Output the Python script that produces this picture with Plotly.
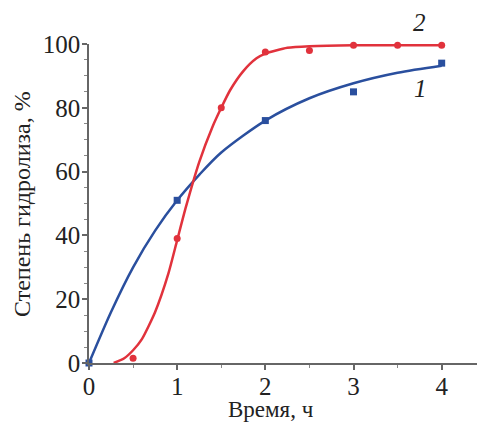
import plotly.graph_objects as go

# measured points
t1 = [0, 1, 2, 3, 4]
y1 = [0, 51, 76, 85, 94]
t2 = [0.5, 1, 1.5, 2, 2.5, 3, 3.5, 4]
y2 = [1.5, 39, 80, 97.5, 98, 99.6, 99.6, 99.6]

# fitted curves
c1_x = [0, 0.25, 0.5, 0.75, 1, 1.25, 1.5, 2, 2.5, 3, 3.5, 4]
c1_y = [0, 16, 30, 41.5, 51, 59, 66, 76, 83, 87.7, 91, 93.2]
c2_x = [0.28, 0.4, 0.5, 0.6, 0.75, 0.9, 1, 1.1, 1.25, 1.4, 1.5, 1.6, 1.75, 1.9, 2, 2.25, 2.5, 3, 3.5, 4]
c2_y = [0, 1.5, 4, 7.5, 16, 28, 38.5, 49, 63, 74, 80, 85.5, 91.5, 95.5, 97, 98.8, 99.3, 99.6, 99.6, 99.6]

x_ticks = [0, 1, 2, 3, 4]
y_ticks = [0, 20, 40, 60, 80, 100]

BLUE = "#2a4f9e"
RED = "#e1323c"
FONT = "Liberation Serif"
TXT = "#222"

fig = go.Figure()
fig.add_trace(go.Scatter(x=c1_x, y=c1_y, mode="lines", line=dict(color=BLUE, width=2.5, shape="spline", smoothing=0.8),
                         hoverinfo="skip", cliponaxis=False))
fig.add_trace(go.Scatter(x=c2_x, y=c2_y, mode="lines", line=dict(color=RED, width=2.5, shape="spline", smoothing=0.6),
                         hoverinfo="skip", cliponaxis=False))
fig.add_trace(go.Scatter(x=t1, y=y1, mode="markers", marker=dict(symbol="square", size=7, color=BLUE), cliponaxis=False))
fig.add_trace(go.Scatter(x=t2, y=y2, mode="markers", marker=dict(symbol="circle", size=7, color=RED), cliponaxis=False))

# page has an 8px body margin; plot area on screen: x 89..484, y 44..363
OFF = 8
W0, W1, H0, H1 = 89, 484, 44, 363
FIG_W, FIG_H = 485 - OFF, 422 - OFF
def px(xs):
    return (xs - W0) / (W1 - W0)
def py(ys):
    return (H1 - ys) / (H1 - H0)

def label(xs, ys, text, size, angle=0):
    fig.add_annotation(xref="paper", yref="paper", x=px(xs), y=py(ys), text=text, showarrow=False,
                       xanchor="center", yanchor="middle", textangle=angle,
                       font=dict(family=FONT, size=size, color=TXT))

label(419, 23, "<i>2</i>", 25)
label(420, 89, "<i>1</i>", 25)
label(271, 409, "Время, ч", 23)
label(22, 204, "Степень гидролиза, %", 24, -90)

fig.update_layout(
    width=FIG_W, height=FIG_H,
    margin=dict(l=W0 - OFF, r=FIG_W - (W1 - OFF), t=H0 - OFF, b=FIG_H - (H1 - OFF)),
    paper_bgcolor="white", plot_bgcolor="white",
    showlegend=False,
    font=dict(family=FONT, size=22, color=TXT),
)
fig.update_xaxes(
    range=[0, 4.48], tickvals=x_ticks, ticktext=[str(v) for v in x_ticks], automargin=False,
    showgrid=False, zeroline=False, showline=True, linecolor="#666", linewidth=1.5,
    ticks="outside", ticklen=5, tickcolor="#666", tickwidth=1.5,
    minor=dict(dtick=0.5, ticks="outside", ticklen=3, tickcolor="#888", tickwidth=1.2),
    tickfont=dict(family=FONT, size=25, color=TXT), ticklabelstandoff=-5,
)
fig.update_yaxes(
    range=[0, 100], tickvals=y_ticks, ticktext=[str(v) for v in y_ticks], automargin=False,
    showgrid=False, zeroline=False, showline=True, linecolor="#666", linewidth=1.5,
    ticks="outside", ticklen=5, tickcolor="#666", tickwidth=1.5,
    minor=dict(dtick=5, ticks="outside", ticklen=3, tickcolor="#888", tickwidth=1.2),
    tickfont=dict(family=FONT, size=25, color=TXT), ticklabelstandoff=-3,
)

fig.write_html("out.html")
